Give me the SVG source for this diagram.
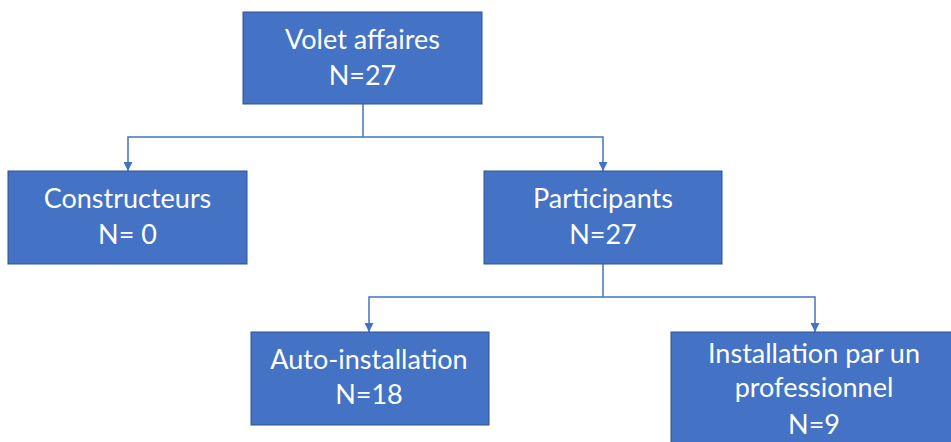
<svg xmlns="http://www.w3.org/2000/svg" width="951" height="442" viewBox="0 0 951 442">
<style>
.box{fill:#4472C4;stroke:#2F528F;stroke-width:1}
.lbl{font-family:Lato,"Open Sans","Liberation Sans",sans-serif;font-size:27px;fill:#FFFFFF;text-anchor:middle}
.con{fill:none;stroke:#4472C4;stroke-width:1.5}
</style>
<defs>
<marker id="arr" viewBox="0 0 10 10" refX="10" refY="5" markerWidth="9" markerHeight="9" markerUnits="userSpaceOnUse" orient="auto">
<path d="M0,0 L10,5 L0,10 Z" fill="#4472C4"/>
</marker>
</defs>
<rect width="951" height="442" fill="#FFFFFF"/>
<g id="connectors">
<path class="con" d="M363,104 V137"/>
<path class="con" d="M363,137 H128 V171" marker-end="url(#arr)"/>
<path class="con" d="M363,137 H603 V171" marker-end="url(#arr)"/>
<path class="con" d="M603,264 V297"/>
<path class="con" d="M603,297 H369 V332" marker-end="url(#arr)"/>
<path class="con" d="M603,297 H815 V332" marker-end="url(#arr)"/>
</g>
<g id="volet">
<rect class="box" x="243" y="12" width="239" height="92"/>
<text class="lbl" x="362.5" y="49">Volet affaires</text>
<text class="lbl" x="362.5" y="85">N=27</text>
</g>
<g id="constructeurs">
<rect class="box" x="8" y="171" width="239" height="93"/>
<text class="lbl" x="127.5" y="208">Constructeurs</text>
<text class="lbl" x="127.5" y="244">N= 0</text>
</g>
<g id="participants">
<rect class="box" x="484" y="171" width="238" height="93"/>
<text class="lbl" x="603" y="208">Participants</text>
<text class="lbl" x="603" y="244">N=27</text>
</g>
<g id="auto">
<rect class="box" x="251" y="332" width="238" height="93"/>
<text class="lbl" x="369" y="369">Auto-installation</text>
<text class="lbl" x="369" y="404">N=18</text>
</g>
<g id="pro">
<rect class="box" x="671" y="332" width="290" height="120"/>
<text class="lbl" x="814" y="363">Installation par un</text>
<text class="lbl" x="814" y="397">professionnel</text>
<text class="lbl" x="814" y="434">N=9</text>
</g>
</svg>
